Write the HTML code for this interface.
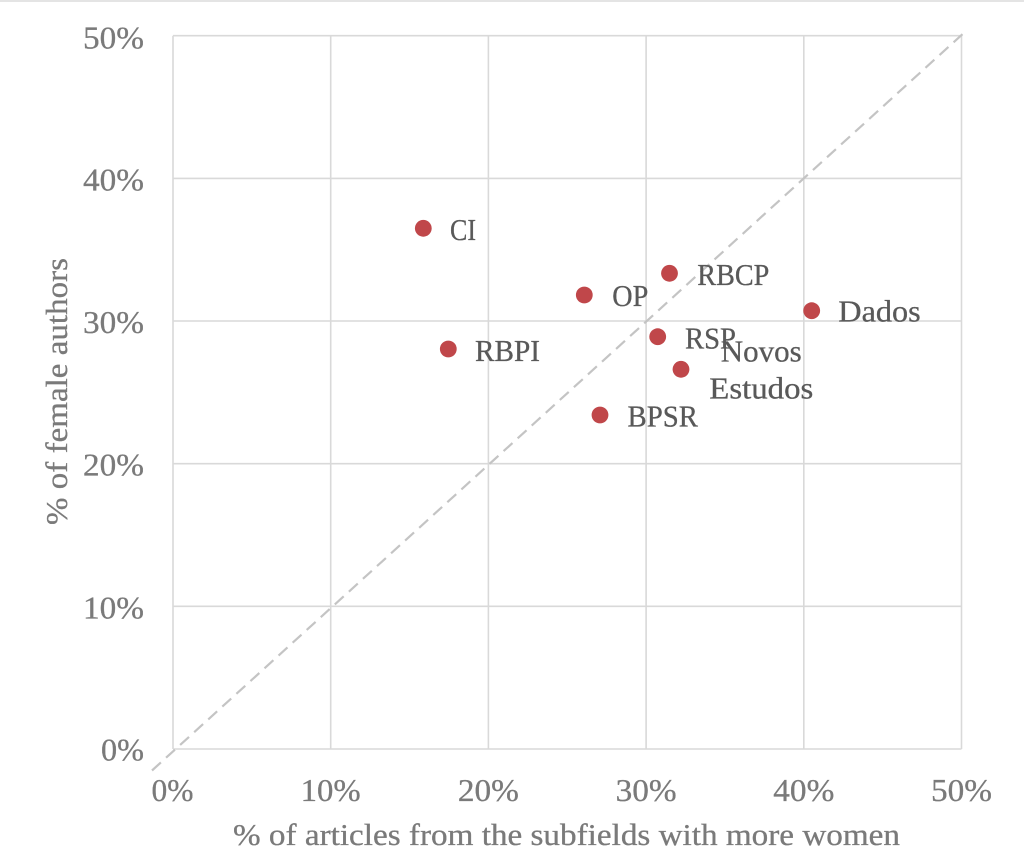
<!DOCTYPE html>
<html>
<head>
<meta charset="utf-8">
<style>
  html, body { margin: 0; padding: 0; background: #ffffff; }
  body { width: 1024px; height: 848px; overflow: hidden; }
  svg { display: block; }
  text { font-family: "Liberation Serif", "DejaVu Serif", serif; }
</style>
</head>
<body>
<svg width="1024" height="848" viewBox="0 0 1024 848" xmlns="http://www.w3.org/2000/svg">
  <rect x="0" y="0" width="1024" height="848" fill="#ffffff"/>
  <rect x="0" y="0" width="1024" height="2" fill="#e4e4e4"/>

  <!-- gridlines -->
  <g stroke="#d9d9d9" stroke-width="1.6" fill="none">
    <line x1="173" y1="35.7" x2="961.5" y2="35.7"/>
    <line x1="173" y1="178.4" x2="961.5" y2="178.4"/>
    <line x1="173" y1="321" x2="961.5" y2="321"/>
    <line x1="173" y1="463.7" x2="961.5" y2="463.7"/>
    <line x1="173" y1="606.3" x2="961.5" y2="606.3"/>
    <line x1="173" y1="749" x2="961.5" y2="749"/>
    <line x1="173" y1="35.7" x2="173" y2="749"/>
    <line x1="330.7" y1="35.7" x2="330.7" y2="749"/>
    <line x1="488.4" y1="35.7" x2="488.4" y2="749"/>
    <line x1="646.1" y1="35.7" x2="646.1" y2="749"/>
    <line x1="803.8" y1="35.7" x2="803.8" y2="749"/>
    <line x1="961.5" y1="35.7" x2="961.5" y2="749"/>
  </g>

  <!-- diagonal dashed line -->
  <line x1="152" y1="770.5" x2="966" y2="31" stroke="#c4c4c4" stroke-width="2.2" stroke-dasharray="12,7"/>

  <!-- y tick labels -->
  <g fill="#7a7a7a" stroke="#7a7a7a" stroke-width="0.3" font-size="32" text-anchor="end">
    <text x="144" y="48.3" textLength="61" lengthAdjust="spacingAndGlyphs">50%</text>
    <text x="144" y="190.5" textLength="61" lengthAdjust="spacingAndGlyphs">40%</text>
    <text x="144" y="333" textLength="61" lengthAdjust="spacingAndGlyphs">30%</text>
    <text x="144" y="475.5" textLength="61" lengthAdjust="spacingAndGlyphs">20%</text>
    <text x="144" y="618.3" textLength="61" lengthAdjust="spacingAndGlyphs">10%</text>
    <text x="144" y="760.7" textLength="43" lengthAdjust="spacingAndGlyphs">0%</text>
  </g>

  <!-- x tick labels -->
  <g fill="#7a7a7a" stroke="#7a7a7a" stroke-width="0.3" font-size="32" text-anchor="middle">
    <text x="172.5" y="801" textLength="42" lengthAdjust="spacingAndGlyphs">0%</text>
    <text x="330.7" y="801" textLength="60" lengthAdjust="spacingAndGlyphs">10%</text>
    <text x="488.4" y="801" textLength="61" lengthAdjust="spacingAndGlyphs">20%</text>
    <text x="646.1" y="801" textLength="61" lengthAdjust="spacingAndGlyphs">30%</text>
    <text x="803.8" y="801" textLength="61" lengthAdjust="spacingAndGlyphs">40%</text>
    <text x="961.5" y="801" textLength="61" lengthAdjust="spacingAndGlyphs">50%</text>
  </g>

  <!-- axis titles -->
  <text x="233" y="845" fill="#7a7a7a" stroke="#7a7a7a" stroke-width="0.3" font-size="31" textLength="667" lengthAdjust="spacingAndGlyphs">% of articles from the subfields with more women</text>
  <text transform="translate(67,525) rotate(-90)" x="0" y="0" fill="#7a7a7a" stroke="#7a7a7a" stroke-width="0.3" font-size="31" textLength="267" lengthAdjust="spacingAndGlyphs">% of female authors</text>

  <!-- data points -->
  <g fill="#c0474a">
    <circle cx="423.3" cy="228.3" r="8.4"/>
    <circle cx="584.3" cy="295" r="8.4"/>
    <circle cx="448.3" cy="349" r="8.4"/>
    <circle cx="669.5" cy="273.3" r="8.4"/>
    <circle cx="657.7" cy="336.7" r="8.4"/>
    <circle cx="681" cy="369.3" r="8.4"/>
    <circle cx="600" cy="415" r="8.4"/>
    <circle cx="811.7" cy="310.7" r="8.4"/>
  </g>

  <!-- data labels -->
  <g fill="#595959" stroke="#595959" stroke-width="0.3" font-size="31">
    <text x="450" y="240" textLength="26" lengthAdjust="spacingAndGlyphs">CI</text>
    <text x="612.3" y="306" textLength="36" lengthAdjust="spacingAndGlyphs">OP</text>
    <text x="475" y="361" textLength="65" lengthAdjust="spacingAndGlyphs">RBPI</text>
    <text x="697.3" y="285" textLength="72" lengthAdjust="spacingAndGlyphs">RBCP</text>
    <text x="685" y="348.3" textLength="51" lengthAdjust="spacingAndGlyphs">RSP</text>
    <text x="838.3" y="321.7" textLength="82.4" lengthAdjust="spacingAndGlyphs">Dados</text>
    <text x="720.7" y="361.7" textLength="81" lengthAdjust="spacingAndGlyphs">Novos</text>
    <text x="709.3" y="398.3" textLength="104" lengthAdjust="spacingAndGlyphs">Estudos</text>
    <text x="627.5" y="426.7" textLength="70.4" lengthAdjust="spacingAndGlyphs">BPSR</text>
  </g>
</svg>
</body>
</html>
